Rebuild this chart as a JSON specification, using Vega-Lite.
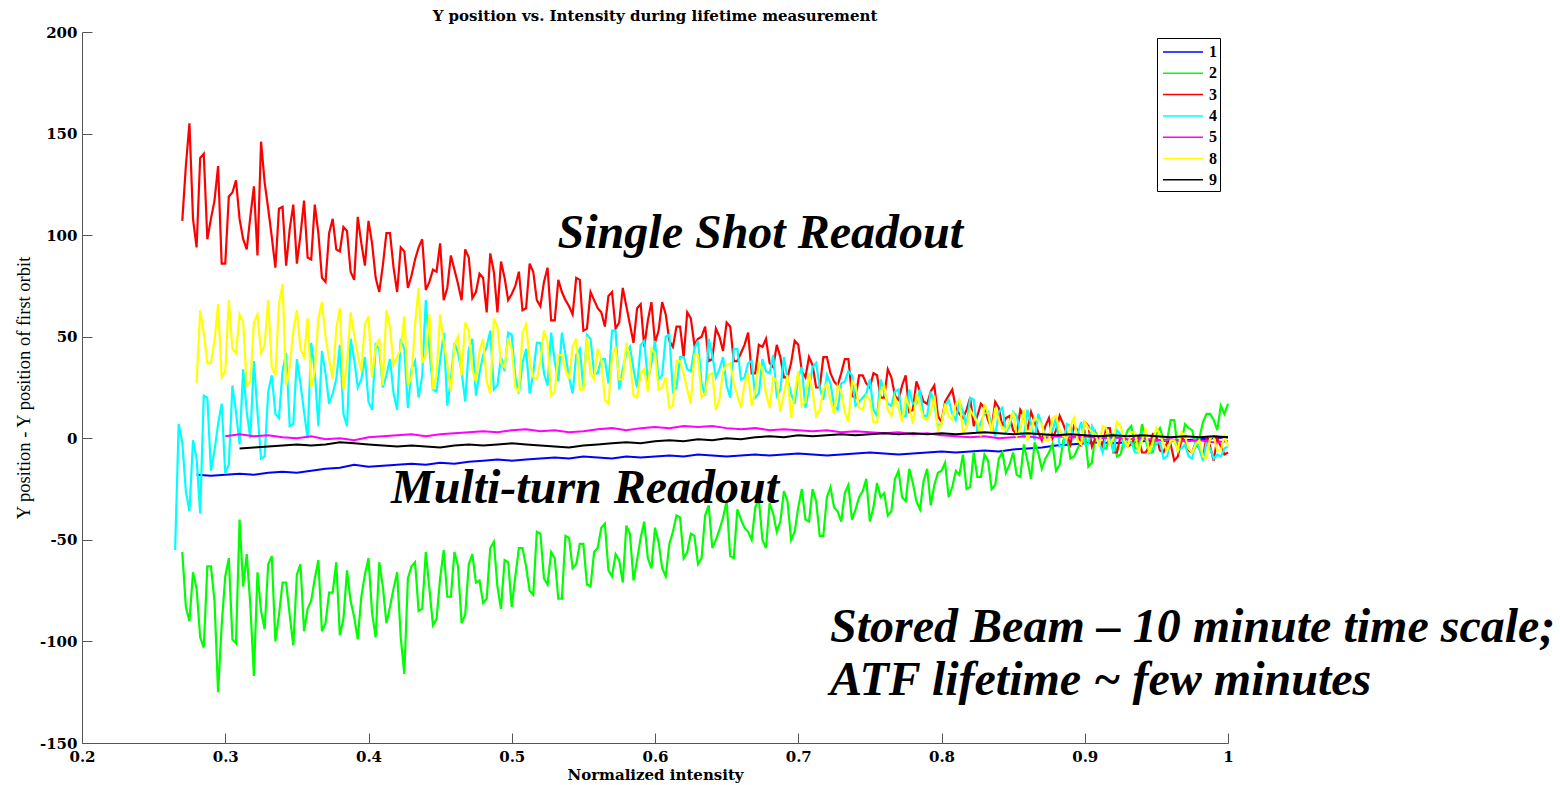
{
  "$schema": "https://vega.github.io/schema/vega-lite/v6.json",
  "autosize": {"type": "none"},
  "padding": {"left": 82, "top": 32, "right": 332, "bottom": 42},
  "width": 1146,
  "height": 711,
  "background": "white",
  "config": {"view": {"stroke": null}},
  "title": {"text": "Y position vs. Intensity during lifetime measurement", "font": "DejaVu Serif", "fontSize": 15, "fontWeight": "bold", "color": "black", "anchor": "middle", "baseline": "alphabetic", "offset": -11},
  "datasets": {
    "series": [
      {"x":0.265,"4":-55},
      {"x":0.2675,"4":7},
      {"x":0.27,"2":-56,"3":107,"4":-2},
      {"x":0.2725,"2":-83,"3":134,"4":-26},
      {"x":0.275,"2":-90,"3":155,"4":-36},
      {"x":0.2775,"2":-66,"3":108,"4":-1},
      {"x":0.28,"1":-18,"2":-74,"3":94,"4":-10,"8":27},
      {"x":0.2825,"2":-98,"3":138,"4":-37,"8":63},
      {"x":0.285,"2":-103,"3":140,"4":21,"8":52},
      {"x":0.2875,"2":-63,"3":98,"4":20,"8":37},
      {"x":0.29,"1":-18.5,"2":-63,"3":108,"4":-16,"8":37},
      {"x":0.2925,"2":-80,"3":117,"4":-6,"8":48},
      {"x":0.295,"2":-125,"3":134,"4":7,"8":66},
      {"x":0.2975,"2":-92,"3":86,"4":17,"8":30},
      {"x":0.3,"1":-18,"2":-68,"3":86,"4":-17,"5":1,"8":33},
      {"x":0.3025,"2":-59,"3":119,"4":-13,"8":68},
      {"x":0.305,"2":-99,"3":121,"4":26,"8":44},
      {"x":0.3075,"2":-101,"3":127,"4":13,"8":42},
      {"x":0.31,"1":-17.5,"2":-40,"3":108,"4":-3,"5":2,"8":61,"9":-5},
      {"x":0.3125,"2":-73,"3":98,"4":34,"8":57},
      {"x":0.315,"2":-57,"3":93,"4":13,"8":26},
      {"x":0.3175,"2":-82,"3":109,"4":0,"8":28},
      {"x":0.32,"1":-18,"2":-117,"3":124,"4":38,"5":1,"8":57,"9":-4.5},
      {"x":0.3225,"2":-66,"3":90,"4":13,"8":61},
      {"x":0.325,"2":-85,"3":146,"4":-10,"8":42},
      {"x":0.3275,"2":-94,"3":126,"4":-9,"8":46},
      {"x":0.33,"1":-17,"2":-62,"3":113,"4":23,"5":1.5,"8":68,"9":-4},
      {"x":0.3325,"2":-58,"3":99,"4":31,"8":35},
      {"x":0.335,"2":-100,"3":84,"4":12,"8":31},
      {"x":0.3375,"2":-87,"3":113,"4":10,"8":66},
      {"x":0.34,"1":-16.5,"2":-71,"3":114,"4":33,"5":0.5,"8":76,"9":-3.5},
      {"x":0.3425,"2":-71,"3":85,"4":42,"8":26},
      {"x":0.345,"2":-87,"3":103,"4":6,"8":35},
      {"x":0.3475,"2":-102,"3":115,"4":7,"8":53},
      {"x":0.35,"1":-17,"2":-67,"3":86,"4":39,"5":0,"8":63,"9":-3},
      {"x":0.3525,"2":-62,"3":100,"4":27,"8":44},
      {"x":0.355,"2":-95,"3":117,"4":13,"8":40},
      {"x":0.3575,"2":-84,"3":89,"4":0,"8":59},
      {"x":0.36,"1":-16,"2":-80,"3":88,"4":47,"5":1,"8":25,"9":-3.5},
      {"x":0.3625,"2":-69,"3":115,"4":33,"8":33},
      {"x":0.365,"2":-60,"3":101,"4":6,"8":59},
      {"x":0.3675,"2":-95,"3":79,"4":43,"8":67},
      {"x":0.37,"1":-15,"2":-91,"3":77,"4":32,"5":-0.5,"8":50,"9":-3},
      {"x":0.3725,"2":-76,"3":101,"4":17,"8":39},
      {"x":0.375,"2":-76,"3":108,"4":22,"8":29},
      {"x":0.3775,"2":-61,"3":93,"4":29,"8":54},
      {"x":0.38,"1":-14.5,"2":-97,"3":92,"4":46,"5":0,"8":64,"9":-2},
      {"x":0.3825,"2":-89,"3":104,"4":12,"8":24},
      {"x":0.385,"2":-65,"3":102,"4":6,"8":37},
      {"x":0.3875,"2":-80,"3":82,"4":49,"8":62},
      {"x":0.39,"1":-13,"2":-88,"3":78,"4":39,"5":-1,"8":51,"9":-2.5},
      {"x":0.3925,"2":-99,"3":109,"4":25,"8":41},
      {"x":0.395,"2":-78,"3":96,"4":29,"8":33},
      {"x":0.3975,"2":-67,"3":85,"4":40,"8":56},
      {"x":0.4,"1":-14,"2":-59,"3":107,"4":18,"5":0.5,"8":60,"9":-3},
      {"x":0.4025,"2":-86,"3":96,"4":14,"8":30},
      {"x":0.405,"2":-98,"3":79,"4":46,"8":45},
      {"x":0.4075,"2":-61,"3":72,"4":44,"8":49},
      {"x":0.41,"1":-13.5,"2":-73,"3":85,"4":25,"5":1,"8":26,"9":-3.5},
      {"x":0.4125,"2":-91,"3":101,"4":31,"8":63},
      {"x":0.415,"2":-83,"3":101,"4":39,"8":55},
      {"x":0.4175,"2":-74,"3":84,"4":22,"8":36},
      {"x":0.42,"1":-13,"2":-66,"3":72,"4":14,"5":1.5,"8":40,"9":-4},
      {"x":0.4225,"2":-98,"3":94,"4":49,"8":44},
      {"x":0.425,"2":-116,"3":92,"4":44,"8":60},
      {"x":0.4275,"2":-69,"3":74,"4":15,"8":26},
      {"x":0.43,"1":-12.5,"2":-63,"3":80,"4":34,"5":2,"8":30,"9":-3.5},
      {"x":0.4325,"2":-61,"3":88,"4":38,"8":56},
      {"x":0.435,"2":-85,"3":94,"4":20,"8":74},
      {"x":0.4375,"2":-84,"3":98,"4":31,"8":37},
      {"x":0.44,"1":-13,"2":-56,"3":73,"4":68,"5":1,"8":41,"9":-4},
      {"x":0.4425,"2":-74,"3":77,"4":44,"8":61},
      {"x":0.445,"2":-92,"3":83,"4":24,"8":24},
      {"x":0.4475,"2":-89,"3":82,"4":23,"8":31},
      {"x":0.45,"1":-12,"2":-69,"3":96,"4":38,"5":2,"8":61,"9":-4.5},
      {"x":0.4525,"2":-55,"3":68,"4":52,"8":47},
      {"x":0.455,"2":-78,"3":74,"4":16,"8":37},
      {"x":0.4575,"2":-78,"3":90,"4":29,"8":23},
      {"x":0.46,"1":-12.5,"2":-56,"3":83,"4":47,"5":2.5,"8":46,"9":-3.5},
      {"x":0.4625,"2":-63,"3":76,"4":42,"8":50},
      {"x":0.465,"2":-91,"3":68,"4":33,"8":31},
      {"x":0.4675,"2":-87,"3":93,"4":18,"8":57},
      {"x":0.47,"1":-11.5,"2":-62,"3":89,"4":44,"5":3,"8":53,"9":-3},
      {"x":0.4725,"2":-57,"3":69,"4":49,"8":34},
      {"x":0.475,"2":-71,"3":72,"4":21,"8":28},
      {"x":0.4775,"2":-70,"3":81,"4":32,"8":43},
      {"x":0.48,"1":-11,"2":-81,"3":79,"4":41,"5":3.5,"8":49,"9":-3.5},
      {"x":0.4825,"2":-79,"3":62,"4":45,"8":28},
      {"x":0.485,"2":-54,"3":91,"4":53,"8":22},
      {"x":0.4875,"2":-51,"3":82,"4":24,"8":59},
      {"x":0.49,"1":-10.5,"2":-73,"3":62,"4":26,"5":3,"8":55,"9":-3},
      {"x":0.4925,"2":-84,"3":87,"4":40,"8":37},
      {"x":0.495,"2":-60,"3":79,"4":33,"8":35},
      {"x":0.4975,"2":-61,"3":68,"4":52,"8":49},
      {"x":0.5,"1":-11,"2":-83,"3":71,"4":51,"5":4,"8":44,"9":-2.5},
      {"x":0.5025,"2":-68,"3":75,"4":30,"8":25},
      {"x":0.505,"2":-54,"3":82,"4":22,"8":23},
      {"x":0.5075,"2":-54,"3":63,"4":37,"8":52},
      {"x":0.51,"1":-10.5,"2":-63,"3":64,"4":44,"5":4.5,"8":56,"9":-3},
      {"x":0.5125,"2":-75,"3":86,"4":22,"8":39},
      {"x":0.515,"2":-77,"3":82,"4":32,"8":30},
      {"x":0.5175,"2":-46,"3":68,"4":47,"8":29},
      {"x":0.52,"1":-10,"2":-47,"3":65,"4":47,"5":3.5,"8":38,"9":-3.5},
      {"x":0.5225,"2":-69,"3":77,"4":32,"8":53},
      {"x":0.525,"2":-72,"3":84,"4":26,"8":47},
      {"x":0.5275,"2":-56,"3":58,"4":52,"8":21},
      {"x":0.53,"1":-9.5,"2":-59,"3":58,"4":38,"5":4,"8":23,"9":-4},
      {"x":0.5325,"2":-79,"3":78,"4":28,"8":41},
      {"x":0.535,"2":-79,"3":72,"4":52,"8":41},
      {"x":0.5375,"2":-48,"3":68,"4":41,"8":34},
      {"x":0.54,"1":-10,"2":-49,"3":65,"4":30,"5":3,"8":29,"9":-4.5},
      {"x":0.5425,"2":-64,"3":61,"4":22,"8":45},
      {"x":0.545,"2":-62,"3":79,"4":41,"8":49},
      {"x":0.5475,"2":-52,"3":78,"4":44,"8":24},
      {"x":0.55,"1":-9,"2":-52,"3":53,"4":25,"5":3.5,"8":24,"9":-3.5},
      {"x":0.5525,"2":-72,"3":54,"4":51,"8":50},
      {"x":0.555,"2":-73,"3":72,"4":49,"8":32},
      {"x":0.5575,"2":-56,"3":68,"4":32,"8":29},
      {"x":0.56,"1":-9.5,"2":-54,"3":64,"4":32,"5":4.5,"8":44,"9":-3},
      {"x":0.5625,"2":-44,"3":62,"4":39,"8":39},
      {"x":0.565,"2":-42,"3":55,"4":39,"8":19},
      {"x":0.5675,"2":-65,"3":70,"4":27,"8":17},
      {"x":0.57,"1":-10,"2":-68,"3":72,"4":53,"5":5,"8":40,"9":-2.5},
      {"x":0.5725,"2":-57,"3":54,"4":53,"8":45},
      {"x":0.575,"2":-60,"3":57,"4":24,"8":29},
      {"x":0.5775,"2":-71,"3":74,"4":34,"8":29},
      {"x":0.58,"1":-9,"2":-43,"3":65,"4":42,"5":4,"8":47,"9":-2},
      {"x":0.5825,"2":-47,"3":56,"4":45,"8":39},
      {"x":0.585,"2":-70,"3":47,"4":34,"8":21},
      {"x":0.5875,"2":-60,"3":64,"4":25,"8":20},
      {"x":0.59,"1":-9.5,"2":-49,"3":66,"4":46,"5":5,"8":32,"9":-2.5},
      {"x":0.5925,"2":-41,"3":45,"4":48,"8":34},
      {"x":0.595,"2":-59,"3":58,"4":28,"8":23},
      {"x":0.5975,"2":-64,"3":67,"4":37,"8":44},
      {"x":0.6,"1":-9,"2":-44,"3":47,"4":48,"5":5.5,"8":42,"9":-1.5},
      {"x":0.6025,"2":-51,"3":53,"4":29,"8":24},
      {"x":0.605,"2":-64,"3":67,"4":31,"8":25},
      {"x":0.6075,"2":-68,"3":61,"4":50,"8":30},
      {"x":0.61,"1":-8.5,"2":-52,"3":48,"4":51,"5":5,"8":15,"9":-1},
      {"x":0.6125,"2":-46,"3":45,"4":23,"8":16},
      {"x":0.615,"2":-38,"3":55,"4":25,"8":38},
      {"x":0.6175,"2":-39,"3":55,"4":40,"8":38},
      {"x":0.62,"1":-9,"2":-59,"3":40,"4":40,"5":6,"8":32,"9":-1.5},
      {"x":0.6225,"2":-56,"3":62,"4":34,"8":24},
      {"x":0.625,"2":-47,"3":59,"4":33,"8":17},
      {"x":0.6275,"2":-48,"3":46,"4":44,"8":41},
      {"x":0.63,"1":-8,"2":-62,"3":49,"4":48,"5":5.5,"8":41,"9":-0.5},
      {"x":0.6325,"2":-59,"3":50,"4":27,"8":20},
      {"x":0.635,"2":-38,"3":55,"4":21,"8":22},
      {"x":0.6375,"2":-33,"3":38,"4":49,"8":31},
      {"x":0.64,"1":-8.5,"2":-54,"3":39,"4":41,"5":6,"8":32,"9":-1},
      {"x":0.6425,"2":-50,"3":54,"4":30,"8":14},
      {"x":0.645,"2":-45,"3":50,"4":34,"8":19},
      {"x":0.6475,"2":-39,"3":43,"4":40,"8":33},
      {"x":0.65,"1":-9,"2":-31,"3":57,"4":26,"5":5,"8":36,"9":0},
      {"x":0.6525,"2":-58,"3":55,"4":20,"8":37},
      {"x":0.655,"2":-59,"3":38,"4":44,"8":27},
      {"x":0.6575,"2":-35,"3":38,"4":44,"8":21},
      {"x":0.66,"1":-8.5,"2":-40,"3":42,"4":29,"5":4.5,"8":15,"9":-0.5},
      {"x":0.6625,"2":-44,"3":46,"4":30,"8":27},
      {"x":0.665,"2":-46,"3":52,"4":37,"8":32},
      {"x":0.6675,"2":-50,"3":32,"4":38,"8":16},
      {"x":0.67,"1":-8,"2":-34,"3":32,"4":20,"5":5,"8":23,"9":0.5},
      {"x":0.6725,"2":-30,"3":46,"4":22,"8":37},
      {"x":0.675,"2":-50,"3":45,"4":39,"8":34},
      {"x":0.6775,"2":-54,"3":49,"4":33,"8":22},
      {"x":0.68,"1":-8.5,"2":-32,"3":37,"4":32,"5":4,"8":15,"9":1},
      {"x":0.6825,"2":-37,"3":35,"4":41,"8":30},
      {"x":0.685,"2":-46,"3":46,"4":21,"8":28},
      {"x":0.6875,"2":-41,"3":40,"4":24,"8":13},
      {"x":0.69,"1":-8,"2":-26,"3":30,"4":40,"5":4.5,"8":22,"9":0.5},
      {"x":0.6925,"2":-31,"3":30,"4":29,"8":31},
      {"x":0.695,"2":-50,"3":37,"4":22,"8":10},
      {"x":0.6975,"2":-46,"3":48,"4":17,"8":22},
      {"x":0.7,"1":-7.5,"2":-34,"3":46,"4":30,"5":4,"8":33,"9":1.5},
      {"x":0.7025,"2":-25,"3":33,"4":35,"8":16},
      {"x":0.705,"2":-40,"3":30,"4":15,"8":18},
      {"x":0.7075,"2":-41,"3":40,"4":24,"8":32},
      {"x":0.71,"1":-8,"2":-25,"3":36,"4":35,"5":3.5,"8":23,"9":1},
      {"x":0.7125,"2":-31,"3":25,"4":37,"8":11},
      {"x":0.715,"2":-48,"3":25,"4":25,"8":14},
      {"x":0.7175,"2":-48,"3":40,"4":19,"8":24},
      {"x":0.72,"1":-8.5,"2":-29,"3":40,"4":31,"5":4,"8":27,"9":1.5},
      {"x":0.7225,"2":-24,"3":32,"4":27,"8":19},
      {"x":0.725,"2":-34,"3":28,"4":16,"8":12},
      {"x":0.7275,"2":-36,"3":26,"4":14,"8":26},
      {"x":0.73,"1":-8,"2":-41,"3":32,"4":27,"5":3,"8":23,"9":2},
      {"x":0.7325,"2":-27,"3":39,"4":28,"8":13},
      {"x":0.735,"2":-23,"3":39,"4":33,"8":8},
      {"x":0.7375,"2":-40,"3":21,"4":31,"8":28},
      {"x":0.74,"1":-7.5,"2":-35,"3":20,"4":16,"5":3.5,"8":26,"9":1.5},
      {"x":0.7425,"2":-29,"3":31,"4":18,"8":15},
      {"x":0.745,"2":-26,"3":31,"4":20,"8":14},
      {"x":0.7475,"2":-20,"3":27,"4":22,"8":21},
      {"x":0.75,"1":-7,"2":-41,"3":25,"4":29,"5":3,"8":19,"9":2},
      {"x":0.7525,"2":-34,"3":32,"4":14,"8":8},
      {"x":0.755,"2":-22,"3":31,"4":11,"8":8},
      {"x":0.7575,"2":-29,"3":20,"4":29,"8":23},
      {"x":0.76,"1":-7.5,"2":-27,"3":20,"4":23,"5":2.5,"8":26,"9":2.5},
      {"x":0.7625,"2":-38,"3":34,"4":17,"8":14},
      {"x":0.765,"2":-36,"3":30,"4":16,"8":11},
      {"x":0.7675,"2":-20,"3":21,"4":23,"8":20},
      {"x":0.77,"1":-8,"2":-16,"3":19,"4":24,"5":3,"8":15,"9":2},
      {"x":0.7725,"2":-29,"3":26,"4":11,"8":8},
      {"x":0.775,"2":-31,"3":31,"4":11,"8":20},
      {"x":0.7775,"2":-15,"3":13,"4":24,"8":16},
      {"x":0.78,"1":-7.5,"2":-22,"3":14,"4":17,"5":2,"8":7,"9":2.5},
      {"x":0.7825,"2":-31,"3":28,"4":17,"8":22},
      {"x":0.785,"2":-35,"3":23,"4":24,"8":16},
      {"x":0.7875,"2":-21,"3":18,"4":11,"8":10},
      {"x":0.79,"1":-7,"2":-15,"3":17,"4":11,"5":2.5,"8":9,"9":2},
      {"x":0.7925,"2":-33,"3":23,"4":23,"8":13},
      {"x":0.795,"2":-23,"3":26,"4":17,"8":21},
      {"x":0.7975,"2":-17,"3":11,"4":6,"8":4},
      {"x":0.8,"1":-6.5,"2":-16,"3":8,"4":7,"5":1.5,"8":7,"9":2.5},
      {"x":0.8025,"2":-12,"3":18,"4":16,"8":17},
      {"x":0.805,"2":-29,"3":21,"4":19,"8":11},
      {"x":0.8075,"2":-24,"3":24,"4":12,"8":9},
      {"x":0.81,"1":-7,"2":-16,"3":15,"4":9,"5":1,"8":17,"9":2},
      {"x":0.8125,"2":-18,"3":12,"4":18,"8":19},
      {"x":0.815,"2":-8,"3":10,"4":13,"8":3},
      {"x":0.8175,"2":-25,"3":14,"4":6,"8":5},
      {"x":0.82,"1":-6.5,"2":-24,"3":20,"4":20,"5":0.5,"8":14,"9":2.5},
      {"x":0.8225,"2":-7,"3":6,"4":19,"8":11},
      {"x":0.825,"2":-19,"3":11,"4":3,"8":8},
      {"x":0.8275,"2":-19,"3":17,"4":8,"8":1},
      {"x":0.83,"1":-6,"2":-8,"3":15,"4":12,"5":1,"8":17,"9":3},
      {"x":0.8325,"2":-11,"3":9,"4":13,"8":12},
      {"x":0.835,"2":-25,"3":5,"4":7,"8":3},
      {"x":0.8375,"2":-23,"3":18,"4":1,"8":15},
      {"x":0.84,"1":-6.5,"2":-10,"3":15,"4":13,"5":0,"8":9,"9":2.5},
      {"x":0.8425,"2":-7,"3":6,"4":15,"8":5},
      {"x":0.845,"2":-17,"3":10,"4":3,"8":4},
      {"x":0.8475,"2":-13,"3":11,"4":6,"8":8},
      {"x":0.85,"1":-5.5,"2":-7,"3":4,"4":13,"5":0.5,"8":13,"9":2},
      {"x":0.8525,"2":-18,"3":2,"4":11,"8":1},
      {"x":0.855,"2":-19,"3":14,"4":3,"8":4},
      {"x":0.8575,"2":-3,"3":11,"4":1,"8":14},
      {"x":0.86,"1":-5,"2":-11,"3":4,"4":14,"5":1,"8":-1,"9":2.5},
      {"x":0.8625,"2":-20,"3":13,"4":7,"8":4},
      {"x":0.865,"2":-2,"3":8,"4":-1,"8":10},
      {"x":0.8675,"2":-7,"3":3,"4":12,"8":9},
      {"x":0.87,"1":-4.5,"2":-15,"3":-1,"4":7,"5":0,"8":7,"9":2},
      {"x":0.8725,"2":-10,"3":6,"4":1,"8":-1},
      {"x":0.875,"2":-7,"3":10,"4":2,"8":-1},
      {"x":0.8775,"2":-3,"3":0,"4":4,"8":10},
      {"x":0.88,"1":-3.5,"2":-16,"3":4,"4":10,"5":1,"8":11,"9":1.5},
      {"x":0.8825,"2":-13,"3":11,"4":-4,"8":4},
      {"x":0.885,"2":-1,"3":7,"4":-4,"8":1},
      {"x":0.8875,"2":2,"3":2,"4":7,"8":0},
      {"x":0.89,"1":-3,"2":-10,"3":-3,"4":6,"5":0.5,"8":6,"9":2},
      {"x":0.8925,"2":-9,"3":6,"4":0,"8":10},
      {"x":0.895,"2":-5,"3":4,"4":2,"8":-1},
      {"x":0.8975,"2":-2,"3":-4,"4":8,"8":-3},
      {"x":0.9,"1":-2.5,"2":4,"3":8,"4":-3,"5":1,"8":8,"9":1.5},
      {"x":0.9025,"2":-14,"3":6,"4":-3,"8":5},
      {"x":0.905,"2":-12,"3":-4,"4":6,"8":3},
      {"x":0.9075,"2":3,"3":0,"4":2,"8":2},
      {"x":0.91,"1":-2,"2":-1,"3":-1,"4":-2,"5":0,"8":-4,"9":1},
      {"x":0.9125,"2":-5,"3":-4,"4":-7,"8":6},
      {"x":0.915,"2":-5,"3":5,"4":2,"8":5},
      {"x":0.9175,"2":1,"3":5,"4":2,"8":-3},
      {"x":0.92,"1":-2.5,"2":2,"3":-7,"4":-7,"5":0.5,"8":0,"9":1.5},
      {"x":0.9225,"2":-9,"3":-7,"4":4,"8":8},
      {"x":0.925,"2":-8,"3":1,"4":2,"8":6},
      {"x":0.9275,"2":-1,"3":0,"4":-4,"8":-1},
      {"x":0.93,"1":-2,"2":4,"3":-4,"4":-1,"5":-0.5,"8":-4,"9":1},
      {"x":0.9325,"2":6,"3":-3,"4":-2,"8":3},
      {"x":0.935,"2":-5,"3":1,"4":-7,"8":3},
      {"x":0.9375,"2":-5,"3":1,"4":-7,"8":-7},
      {"x":0.94,"1":-1.5,"2":7,"3":-7,"4":3,"5":0,"8":-1,"9":1.5},
      {"x":0.9425,"2":-1,"3":-7,"4":3,"8":5},
      {"x":0.945,"2":-7,"3":-4,"4":-7,"8":-7},
      {"x":0.9475,"2":-7,"3":2,"4":-5,"8":-2},
      {"x":0.95,"1":-1,"2":2,"3":1,"4":-3,"5":-1,"8":5,"9":1},
      {"x":0.9525,"2":5,"3":-6,"4":-1,"8":2},
      {"x":0.955,"2":-1,"3":-7,"4":-10,"8":-3},
      {"x":0.9575,"2":-1,"3":-2,"4":-9,"8":-6},
      {"x":0.96,"1":-1.5,"2":9,"3":-3,"4":-1,"5":-0.5,"8":-1,"9":0.5},
      {"x":0.9625,"2":9,"3":-11,"4":-1,"8":-1},
      {"x":0.965,"2":-6,"3":-9,"4":-6,"8":-6},
      {"x":0.9675,"2":-2,"3":0,"4":-5,"8":3},
      {"x":0.97,"1":-1,"2":7,"3":-1,"4":-3,"5":-1.5,"8":1,"9":1},
      {"x":0.9725,"2":5,"3":-6,"4":-9,"8":-5},
      {"x":0.975,"2":4,"3":-7,"4":-10,"8":-7},
      {"x":0.9775,"2":-4,"3":-2,"4":-1,"8":-3},
      {"x":0.98,"1":-0.5,"2":0,"3":-5,"4":-5,"5":-1,"8":-1,"9":0.5},
      {"x":0.9825,"2":8,"3":-10,"4":-11,"8":-9},
      {"x":0.985,"2":12,"3":1,"4":-2,"8":-10},
      {"x":0.9875,"2":12,"3":-4,"4":-5,"8":0},
      {"x":0.99,"1":0,"2":9,"3":-11,"4":-10,"5":-2,"8":1,"9":1},
      {"x":0.9925,"2":4,"3":0,"4":-8,"8":-6},
      {"x":0.995,"2":16,"3":-4,"4":-9,"8":-6},
      {"x":0.9975,"2":12,"3":-8,"4":-5,"8":1},
      {"x":1.0,"1":0.5,"2":17,"3":-7,"4":-4,"5":-1.5,"8":-4,"9":0.5}
    ],
    "notes": [
      {"t": "Single Shot Readout", "x": 0.532, "y": 93.7},
      {"t": "Multi-turn Readout", "x": 0.4157, "y": -31.9},
      {"t": "Stored Beam – 10 minute time scale;", "x": 0.7222, "y": -100.3},
      {"t": "ATF lifetime ~ few minutes", "x": 0.7222, "y": -126.4}
    ]
  },
  "layer": [
    {
      "data": {"name": "series"},
      "transform": [
        {"fold": ["1", "2", "3", "4", "5", "8", "9"], "as": ["s", "v"]},
        {"filter": "isValid(datum.v)"}
      ],
      "encoding": {
        "x": {"field": "x", "type": "quantitative", "scale": {"domain": [0.2, 1], "nice": false, "zero": false},
          "axis": {"values": [0.2, 0.3, 0.4, 0.5, 0.6, 0.7, 0.8, 0.9, 1], "format": "~g", "title": "Normalized intensity", "grid": false, "tickSize": -10, "labelFlush": false, "labelPadding": 16,
            "labelFont": "DejaVu Serif", "labelFontWeight": "bold", "labelFontSize": 15, "labelColor": "black",
            "titleFont": "DejaVu Serif", "titleFontWeight": "bold", "titleFontSize": 15, "titleColor": "black", "titlePadding": 3,
            "domainColor": "#555555", "tickColor": "#555555"}},
        "y": {"field": "v", "type": "quantitative", "scale": {"domain": [-150, 200], "nice": false, "zero": false},
          "axis": {"values": [-150, -100, -50, 0, 50, 100, 150, 200], "labelExpr": "'' + datum.value", "title": "Y position - Y position of first orbit", "grid": false, "tickSize": -10, "labelFlush": false, "labelPadding": 15,
            "labelFont": "DejaVu Serif", "labelFontWeight": "bold", "labelFontSize": 15, "labelColor": "black",
            "titleFont": "Liberation Serif", "titleFontWeight": "normal", "titleFontSize": 18.5, "titleColor": "black", "titlePadding": 6,
            "domainColor": "#555555", "tickColor": "#555555"}},
        "color": {"field": "s", "type": "nominal",
          "scale": {"domain": ["1", "2", "3", "4", "5", "8", "9"], "range": ["#0000ff", "#00ff00", "#ff0000", "#00ffff", "#ff00ff", "#ffff00", "#000000"]},
          "legend": {"title": null, "orient": "none", "legendX": 1075, "legendY": 6, "strokeColor": "black", "fillColor": "white", "padding": 3,
            "symbolType": "M-3,0H1", "symbolSize": 400, "symbolOffset": 22, "symbolStrokeWidth": 1.5, "rowPadding": 2.3,
            "labelFont": "Liberation Serif", "labelFontWeight": "bold", "labelFontSize": 16, "labelColor": "black", "labelOffset": 5}}
      },
      "layer": [
        {"transform": [{"filter": "datum.s == '1'"}], "mark": {"type": "line", "strokeWidth": 2}},
        {"transform": [{"filter": "datum.s == '2'"}], "mark": {"type": "line", "strokeWidth": 2.2}},
        {"transform": [{"filter": "datum.s == '3'"}], "mark": {"type": "line", "strokeWidth": 2.2}},
        {"transform": [{"filter": "datum.s == '4'"}], "mark": {"type": "line", "strokeWidth": 2.2}},
        {"transform": [{"filter": "datum.s == '5'"}], "mark": {"type": "line", "strokeWidth": 2}},
        {"transform": [{"filter": "datum.s == '8'"}], "mark": {"type": "line", "strokeWidth": 2.2}},
        {"transform": [{"filter": "datum.s == '9'"}], "mark": {"type": "line", "strokeWidth": 2}}
      ]
    },
    {
      "data": {"name": "notes"},
      "mark": {"type": "text", "font": "Liberation Serif", "fontStyle": "italic", "fontWeight": "bold", "fontSize": 48, "align": "left", "baseline": "alphabetic", "color": "black"},
      "encoding": {
        "x": {"field": "x", "type": "quantitative"},
        "y": {"field": "y", "type": "quantitative"},
        "text": {"field": "t", "type": "nominal"}
      }
    }
  ]
}
